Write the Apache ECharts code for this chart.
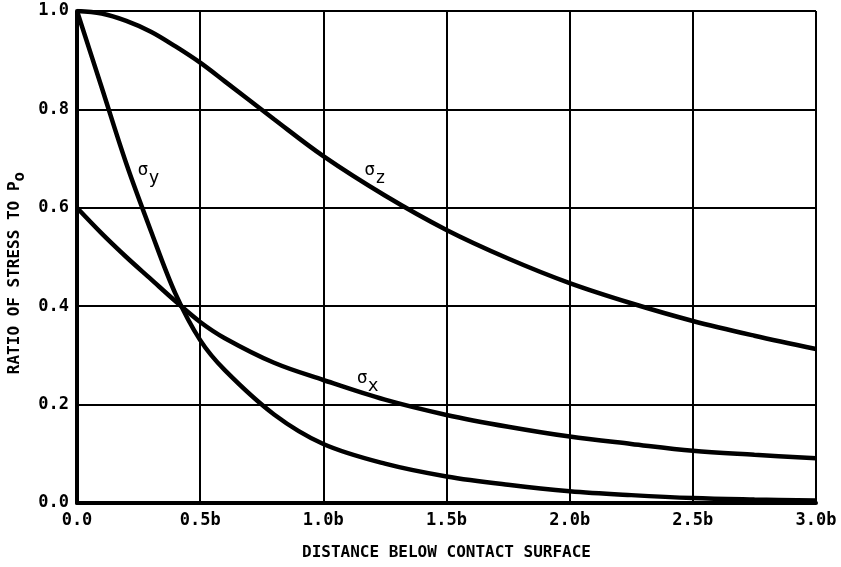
<!DOCTYPE html>
<html>
<head>
<meta charset="utf-8">
<script src="https://cdn.jsdelivr.net/npm/echarts@6/dist/echarts.min.js"></script>
<style>
  html, body { margin: 0; padding: 0; background: #fff; }
  #chart { width: 841px; height: 567px; }
</style>
</head>
<body>
<div id="chart"></div>
<script>
// distance below surface (units of b)
var depth = [0, 0.1, 0.2, 0.3, 0.4, 0.5, 0.6, 0.8, 1.0, 1.25, 1.5, 1.75, 2.0, 2.25, 2.5, 2.75, 3.0]
// stress ratios
var sigmaZ = [1.0, 0.995, 0.98, 0.958, 0.928, 0.895, 0.857, 0.78, 0.705, 0.625, 0.555, 0.497, 0.447, 0.406, 0.37, 0.34, 0.313]
var sigmaY = [1.0, 0.845, 0.69, 0.553, 0.425, 0.331, 0.27, 0.18, 0.12, 0.08, 0.054, 0.037, 0.024, 0.016, 0.01, 0.007, 0.005]
var sigmaX = [0.6, 0.548, 0.5, 0.455, 0.41, 0.368, 0.335, 0.285, 0.25, 0.21, 0.179, 0.155, 0.135, 0.12, 0.106, 0.098, 0.091]
var xTickLabels = ['0.0', '0.5b', '1.0b', '1.5b', '2.0b', '2.5b', '3.0b']
var yTickLabels = ['0.0', '0.2', '0.4', '0.6', '0.8', '1.0']
// where the curve names sit (label bottom edge)
var curveNames = [
  { sub: 'y', at: [0.29, 0.64] },
  { sub: 'z', at: [1.21, 0.64] },
  { sub: 'x', at: [1.18, 0.217] }
]

var FONT = 'DejaVu Sans Mono'

function pairs(ys) {
  return depth.map(function (x, i) { return [x, ys[i]] })
}

function curve(name, ys) {
  return {
    name: name,
    type: 'line',
    data: pairs(ys),
    smooth: 0.35,
    showSymbol: false,
    lineStyle: { color: '#000', width: 4.5 },
    z: 5
  }
}

var myChart = echarts.init(document.getElementById('chart'))

var option = {
  backgroundColor: '#fff',
  animation: false,
  grid: { left: 77, right: 25, top: 11, bottom: 64, containLabel: false, outerBoundsMode: 'none' },
  xAxis: {
    type: 'value',
    min: 0,
    max: 3,
    interval: 0.5,
    name: 'DISTANCE BELOW CONTACT SURFACE',
    nameLocation: 'middle',
    nameGap: 42,
    nameTextStyle: { fontFamily: FONT, fontSize: 16, color: '#000', fontWeight: 'bold' },
    axisLine: { show: true, lineStyle: { color: '#000', width: 4 } },
    axisTick: { show: false },
    axisLabel: {
      fontFamily: FONT, fontSize: 17, color: '#000', fontWeight: 'bold', margin: 9,
      formatter: function (v) { return xTickLabels[Math.round(v / 0.5)] }
    },
    splitLine: { show: true, lineStyle: { color: '#000', width: 2 } }
  },
  yAxis: {
    type: 'value',
    min: 0,
    max: 1,
    interval: 0.2,
    name: '{a|RATIO OF STRESS TO P}{b|o}',
    nameLocation: 'middle',
    nameRotate: 90,
    nameGap: 44,
    nameTextStyle: {
      padding: [0, 32, 0, 0],
      rich: {
        a: { fontFamily: FONT, fontSize: 16, color: '#000', fontWeight: 'bold' },
        b: { fontFamily: FONT, fontSize: 16, color: '#000', fontWeight: 'bold', padding: [10, 0, 0, 0] }
      }
    },
    axisLine: { show: true, lineStyle: { color: '#000', width: 4 } },
    axisTick: { show: false },
    axisLabel: {
      fontFamily: FONT, fontSize: 17, color: '#000', fontWeight: 'bold', margin: 8,
      formatter: function (v) { return yTickLabels[Math.round(v / 0.2)] }
    },
    splitLine: { show: true, lineStyle: { color: '#000', width: 2 } }
  },
  series: [
    curve('σz', sigmaZ),
    curve('σy', sigmaY),
    curve('σx', sigmaX),
    {
      // invisible points that only carry the curve names
      type: 'scatter',
      silent: true,
      symbolSize: 1,
      itemStyle: { color: 'rgba(255,255,255,0)', opacity: 1 },
      data: curveNames.map(function (c) {
        return { value: c.at, sub: c.sub }
      }),
      label: {
        show: true,
        position: 'top',
        distance: 0,
        color: '#000',
        formatter: function (p) { return '{s|σ}{b|' + p.data.sub + '}' },
        rich: {
          s: { fontFamily: FONT, fontSize: 18, color: '#000', padding: [0, 0, 8, 0] },
          b: { fontFamily: FONT, fontSize: 18, color: '#000', padding: [8, 0, 0, 0] }
        }
      },
      z: 6
    }
  ]
}

myChart.setOption(option)
</script>
</body>
</html>
